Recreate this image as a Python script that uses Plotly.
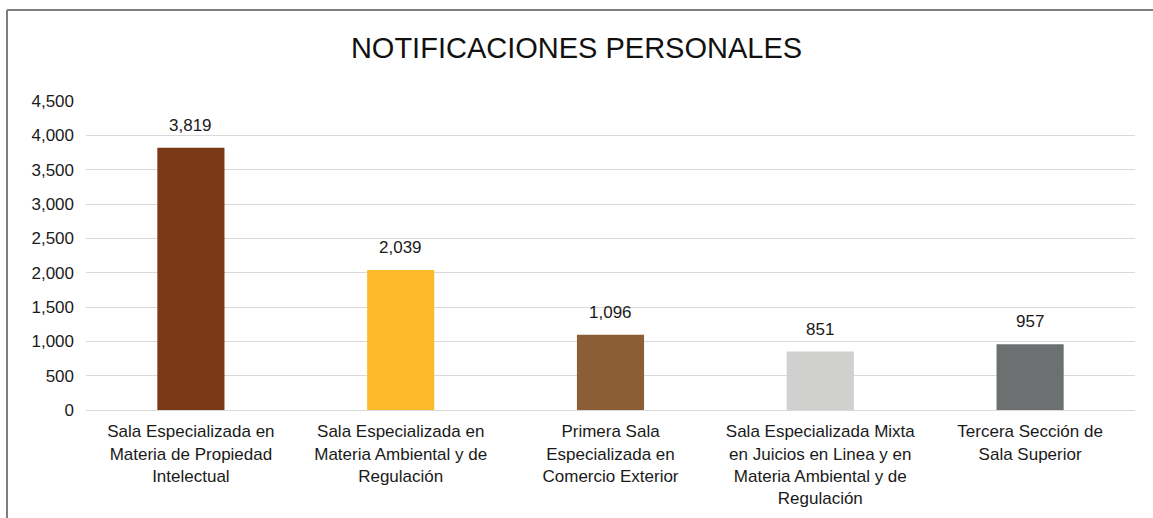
import plotly.graph_objects as go

categories = [
    "Sala Especializada en<br>Materia de Propiedad<br>Intelectual",
    "Sala Especializada en<br>Materia Ambiental y de<br>Regulación",
    "Primera Sala<br>Especializada en<br>Comercio Exterior",
    "Sala Especializada Mixta<br>en Juicios en Linea y en<br>Materia Ambiental y de<br>Regulación",
    "Tercera Sección de<br>Sala Superior",
]
values = [3819, 2039, 1096, 851, 957]
colors = ["#7B3A17", "#FDBB2B", "#8C5E35", "#D0D0CE", "#6D7070"]
y_ticks = [0, 500, 1000, 1500, 2000, 2500, 3000, 3500, 4000, 4500]

FONT = "Liberation Sans, Arial, sans-serif"

fig = go.Figure(go.Bar(
    x=categories,
    y=values,
    marker=dict(color=colors, line=dict(width=0)),
    width=0.32,
    hoverinfo="x+y",
))

L, R, T, B = 86, 18, 101, 108
W, H = 1153, 518
pw = W - L - R
ph = H - T - B

def px(x):
    return (x - L) / pw

def py(y):
    return (H - B - y) / ph

annotations = [
    dict(x=c, y=v, xref="x", yref="y", text=f"{v:,}", showarrow=False,
         yanchor="bottom", yshift=11,
         font=dict(family=FONT, size=17, color="#1a1a1a"))
    for c, v in zip(categories, values)
]

fig.update_layout(
    width=W, height=H,
    margin=dict(l=L, r=R, t=T, b=B),
    paper_bgcolor="white",
    plot_bgcolor="white",
    showlegend=False,
    title=dict(
        text="NOTIFICACIONES PERSONALES",
        x=0.5, xref="container", xanchor="center",
        y=1 - 48 / H, yref="container", yanchor="middle",
        font=dict(family=FONT, size=29, color="#111111"),
    ),
    font=dict(family=FONT, size=17, color="#1a1a1a"),
    xaxis=dict(
        tickfont=dict(family=FONT, size=17, color="#1a1a1a"),
        showgrid=False,
        showline=True, linecolor="#D9D9D9", linewidth=1,
        ticks="",
        automargin=False,
        ticklabelstandoff=6,
        fixedrange=True,
    ),
    yaxis=dict(
        range=[0, 4500],
        tickvals=y_ticks,
        tickformat=",",
        tickfont=dict(family=FONT, size=17, color="#1a1a1a"),
        showgrid=True, gridcolor="#D9D9D9", gridwidth=1,
        zeroline=False,
        showline=False,
        ticks="",
        automargin=False,
        ticklabelstandoff=11,
        fixedrange=True,
    ),
    annotations=annotations,
    shapes=[
        dict(type="line", xref="paper", yref="paper",
             x0=px(7), x1=px(7), y0=py(10), y1=py(H + 5),
             line=dict(color="#7F7F7F", width=2)),
        dict(type="line", xref="paper", yref="paper",
             x0=px(7), x1=px(W + 5), y0=py(10), y1=py(10),
             line=dict(color="#7F7F7F", width=2)),
    ],
)

fig.write_html("out.html", config={"displayModeBar": False},
               post_script="document.body.style.margin='0';")
